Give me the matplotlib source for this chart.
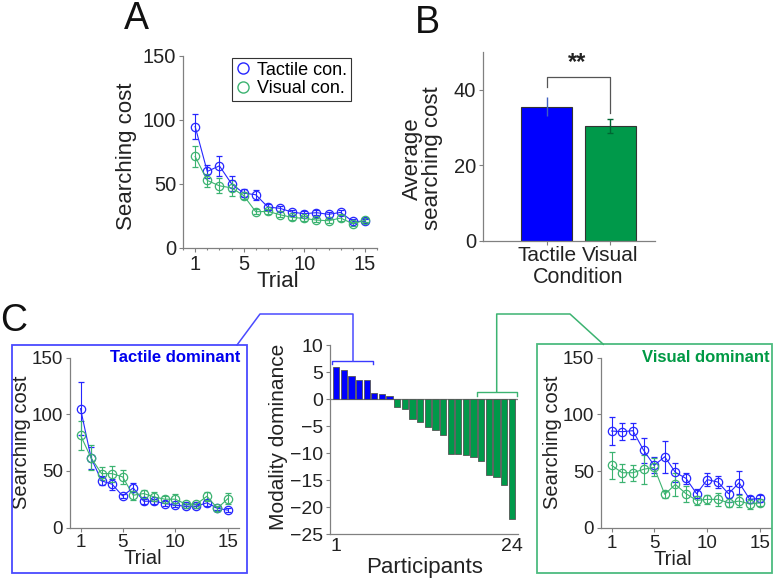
import matplotlib
matplotlib.use("Agg")
import matplotlib.pyplot as plt
from matplotlib.lines import Line2D
from matplotlib.patches import Rectangle
from matplotlib.ticker import MultipleLocator
import numpy as np

plt.rcParams['font.family'] = ['Liberation Sans', 'DejaVu Sans']

# ---------------- data ----------------
trials = list(range(1, 16))

# Panel A
a_tactile = [94.9, 59.8, 64.2, 50.2, 42.9, 41.6, 32.0, 31.0, 28.0, 26.8, 27.6, 26.3, 27.8, 20.8, 20.8]
a_tactile_err = [10, 5, 8, 6, 3, 4, 2, 2, 2, 2, 2, 2, 2, 1.5, 1.5]
a_visual = [71.5, 52.8, 48.6, 47.0, 41.0, 28.3, 28.6, 26.0, 23.9, 23.1, 21.8, 21.3, 23.4, 19.0, 21.6]
a_visual_err = [8, 5, 6, 6, 3, 2, 2, 2, 2, 2, 1.5, 1.5, 2, 1.5, 1.5]

# Panel B
b_conditions = ['Tactile', 'Visual']
b_means = [35.4, 30.3]
b_errs = [2.5, 1.9]

# Panel C middle (modality dominance per participant)
participants = list(range(1, 25))
dominance = [6.0, 5.4, 4.3, 3.6, 3.5, 1.1, 0.85, 0.55, -1.5, -1.8, -3.6, -4.2,
             -5.2, -5.8, -6.7, -10.1, -10.2, -10.35, -10.8, -11.5, -14.05, -14.4, -15.8, -22.1]

# Panel C left (tactile dominant)
tl_tactile = [105.0, 61.5, 41.2, 38.2, 27.9, 35.0, 23.2, 23.2, 21.2, 19.7, 18.8, 18.8, 21.8, 17.0, 15.3]
tl_tactile_err = [23.5, 10, 4, 5, 2, 4, 2, 2, 2, 2, 2, 2, 2.5, 1.5, 1.5]
tl_visual = [81.5, 61.5, 47.6, 47.6, 44.7, 28.5, 30.0, 27.0, 25.0, 25.0, 20.6, 20.6, 27.6, 17.0, 25.6]
tl_visual_err = [13, 11, 6, 7, 6, 4, 3, 4, 3, 5, 2, 2, 4, 2, 5]

# Panel C right (visual dominant)
vr_tactile = [85.3, 84.7, 85.6, 68.5, 55.0, 62.6, 48.8, 43.5, 30.0, 42.4, 40.3, 30.0, 39.7, 25.0, 25.9]
vr_tactile_err = [12, 7.4, 7, 11, 7, 14, 8.5, 5, 4, 6, 5, 7, 10, 3, 3]
vr_visual = [55.0, 48.5, 48.5, 51.5, 53.2, 29.4, 38.2, 30.0, 24.1, 25.0, 25.0, 22.0, 23.5, 20.9, 22.0]
vr_visual_err = [12, 8, 7, 13, 8, 3, 10, 7, 4, 4, 6, 4, 5, 4, 3]

# ---------------- style ----------------
BLUE = '#2626ff'
GREEN = '#3cb371'
BAR_BLUE = '#0000ff'
BAR_GREEN = '#00994a'
SPINE = '#808080'
TXT = '#222222'

W, H = 774, 581
fig = plt.figure(figsize=(W / 100, H / 100), dpi=100)


def px_axes(x0, y_bottom, x1, y_top):
    return fig.add_axes([x0 / W, 1 - y_bottom / H, (x1 - x0) / W, (y_bottom - y_top) / H])


def style(ax, fs):
    for s in ['top', 'right']:
        ax.spines[s].set_visible(False)
    for s in ['left', 'bottom']:
        ax.spines[s].set_color(SPINE)
        ax.spines[s].set_linewidth(0.9)
    ax.tick_params(colors=SPINE, labelcolor=TXT, labelsize=fs, length=3, width=0.8, pad=2)


def set_labels(ax, xlabel, ylabel, xfs, yfs, xpos, ypos, **ykw):
    ax.set_xlabel(xlabel, fontsize=xfs, color=TXT, va='center')
    ax.set_ylabel(ylabel, fontsize=yfs, color=TXT, va='center', **ykw)
    ax.xaxis.set_label_coords(*xpos)
    ax.yaxis.set_label_coords(*ypos)


def trial_plot(ax, t, t_err, v, v_err, fs):
    ax.errorbar(trials, t, yerr=t_err, fmt='-o', color=BLUE, mfc='none', mec=BLUE,
                ms=6, lw=0.8, elinewidth=0.8, capsize=2, mew=0.9, label='Tactile con.')
    ax.errorbar(trials, v, yerr=v_err, fmt='-o', color=GREEN, mfc='none', mec=GREEN,
                ms=6, lw=0.8, elinewidth=0.8, capsize=2, mew=0.9, label='Visual con.')
    ax.set_xlim(0, 16)
    ax.set_ylim(0, 150)
    ax.set_xticks([1, 5, 10, 15])
    ax.set_yticks([0, 50, 100, 150])
    style(ax, fs)


# ---------------- Panel A ----------------
axA = px_axes(183, 248, 377, 56)
trial_plot(axA, a_tactile, a_tactile_err, a_visual, a_visual_err, 14.5)
axA.xaxis.set_minor_locator(MultipleLocator(1))
axA.tick_params(axis='x', which='minor', length=1.5, width=0.8, colors=SPINE)
set_labels(axA, 'Trial', 'Searching cost', 16, 16, (0.49, -0.177), (-0.29, 0.48))
h1 = Line2D([], [], ls='none', marker='o', mfc='none', mec=BLUE, ms=8, mew=1)
h2 = Line2D([], [], ls='none', marker='o', mfc='none', mec=GREEN, ms=8, mew=1)
leg = axA.legend([h1, h2], ['Tactile con.', 'Visual con.'], loc='upper left',
                 bbox_to_anchor=(0.252, 0.99), borderaxespad=0, fontsize=13,
                 fancybox=False, edgecolor='#333333', handlelength=0.8,
                 handletextpad=0.4, borderpad=0.2, labelspacing=0.1, framealpha=1)
leg.get_frame().set_linewidth(0.8)

# ---------------- Panel B ----------------
axB = px_axes(483, 240.7, 655, 51.7)
xb = np.arange(len(b_conditions))
axB.bar(xb, b_means, width=0.8, color=[BAR_BLUE, BAR_GREEN], edgecolor='#333333', linewidth=0.8)
axB.errorbar(xb[0], b_means[0], yerr=b_errs[0], fmt='none', ecolor='#4060c0', elinewidth=1, capsize=0)
axB.errorbar(xb[1], b_means[1], yerr=b_errs[1], fmt='none', ecolor='#006633', elinewidth=1, capsize=2)
axB.set_xlim(-1.0, 1.7)
axB.set_ylim(0, 50)
axB.set_yticks([0, 20, 40])
axB.set_xticks(xb)
axB.set_xticklabels(b_conditions)
style(axB, 14.5)
axB.tick_params(axis='x', labelsize=15, pad=0.5)
set_labels(axB, 'Condition', 'Average\nsearching cost', 15.5, 16, (0.552, -0.195), (-0.35, 0.435),
           linespacing=0.95)
axB.plot([0, 0, 1, 1], [40.7, 43.3, 43.3, 33.8], color='#555555', lw=0.9)
axB.text(0.47, 44.0, '**', ha='center', va='bottom', fontsize=17, fontweight='bold', color=TXT)

# ---------------- Panel C middle ----------------
axM = px_axes(330, 534.3, 518.3, 345)
cols = [BAR_BLUE if d > 0 else BAR_GREEN for d in dominance]
axM.bar(participants, dominance, width=0.82, color=cols, edgecolor='#555555', linewidth=0.6)
axM.axhline(0, color=SPINE, lw=0.9, zorder=0)
axM.set_xlim(0.2, 24.85)
axM.set_ylim(-25, 10)
axM.set_xticks([1, 24])
axM.set_yticks(np.arange(-25, 11, 5))
style(axM, 14)
axM.tick_params(axis='x', length=0, pad=3)
set_labels(axM, 'Participants', 'Modality dominance', 16, 15, (0.5, -0.178), (-0.276, 0.517))
# brackets
axM.plot([0.45, 0.45, 5.8, 5.8], [6.4, 7.1, 7.1, 6.4], color='#3a3aff', lw=1, clip_on=False)
axM.plot([19.4, 19.4, 24.65, 24.65], [0.6, 1.4, 1.4, 0.6], color='#3cb371', lw=1, clip_on=False)

# ---------------- Panel C left ----------------
axL = px_axes(70, 527.5, 238.5, 357.7)
trial_plot(axL, tl_tactile, tl_tactile_err, tl_visual, tl_visual_err, 13.5)
set_labels(axL, 'Trial', 'Searching cost', 14.5, 14.5, (0.43, -0.185), (-0.285, 0.5))
axL.text(1.01, 1.0, 'Tactile dominant', transform=axL.transAxes, ha='right', va='center',
         fontsize=12, fontweight='bold', color='#0000ee')

# ---------------- Panel C right ----------------
axR = px_axes(601, 527.7, 771, 357.7)
trial_plot(axR, vr_tactile, vr_tactile_err, vr_visual, vr_visual_err, 13.5)
set_labels(axR, 'Trial', 'Searching cost', 14.5, 14.5, (0.42, -0.185), (-0.285, 0.5))
axR.text(0.99, 1.0, 'Visual dominant', transform=axR.transAxes, ha='right', va='center',
         fontsize=12, fontweight='bold', color='#009944')

# ---------------- boxes and connectors (figure pixel coords) ----------------
def fx(x):
    return x / W


def fy(y):
    return 1 - y / H


box_l = Rectangle((fx(11.7), fy(572.7)), fx(246.7) - fx(11.7), fy(345) - fy(572.7),
                  transform=fig.transFigure, fill=False, edgecolor='#4a4aff', lw=1.3)
box_r = Rectangle((fx(537.3), fy(573.3)), fx(771.5) - fx(537.3), fy(344.3) - fy(573.3),
                  transform=fig.transFigure, fill=False, edgecolor='#4cbb7f', lw=1.3)
fig.add_artist(box_l)
fig.add_artist(box_r)
fig.add_artist(Line2D([fx(237), fx(260), fx(353), fx(353)], [fy(345), fy(314), fy(314), fy(361)],
                      transform=fig.transFigure, color='#4a4aff', lw=1.1))
fig.add_artist(Line2D([fx(496.7), fx(496.7), fx(570), fx(603.3)], [fy(391.7), fy(314), fy(314), fy(344.3)],
                      transform=fig.transFigure, color='#3cb371', lw=1.1))

# ---------------- panel letters ----------------
fig.text(fx(124), fy(29), 'A', fontsize=27, color='#111111', va='baseline')
fig.text(fx(415), fy(33), 'B', fontsize=27, color='#111111', va='baseline')
fig.text(fx(0), fy(331), 'C', fontsize=27, color='#111111', va='baseline')

fig.savefig('out.png', dpi=100)
